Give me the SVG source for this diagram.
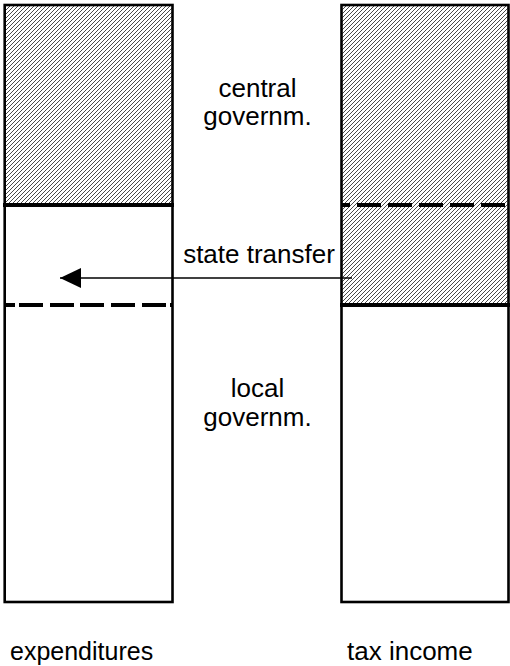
<svg xmlns="http://www.w3.org/2000/svg" width="510" height="666" viewBox="0 0 510 666">
<style>
.frame{fill:none;stroke:#000;stroke-width:2.6}
.sep{stroke:#000;stroke-width:4;fill:none}
.dash{stroke:#000;stroke-width:4;fill:none}
.lbl{font-family:"Liberation Sans",Arial,sans-serif;font-size:26px;fill:#000}
.conn{stroke:#000;stroke-width:1.3;fill:none}
</style>
<defs>
<pattern id="hatch" patternUnits="userSpaceOnUse" width="4" height="4">
<rect width="4" height="4" fill="#fff"/>
<path d="M-1,1 L1,-1 M0,4 L4,0 M3,5 L5,3" stroke="#4a4a4a" stroke-width="1"/>
</pattern>
<marker id="ah" markerUnits="userSpaceOnUse" markerWidth="22" markerHeight="22" refX="21" refY="10" orient="auto">
<path d="M0,0 L21,10 L0,20 Z" fill="#000"/>
</marker>
</defs>
<rect width="510" height="666" fill="#fff"/>
<g id="expenditures">
<rect x="5" y="5" width="168" height="200" fill="url(#hatch)"/>
<rect class="frame" x="4.7" y="5" width="167.8" height="597"/>
<path class="sep" d="M3,205 H174"/>
<path class="dash" d="M6,305 H15 M19,305 H43 M50,305 H74 M80,305 H104 M111,305 H135 M142,305 H166 M170,305 H173"/>
<text class="lbl" x="10" y="660" style="font-size:25px">expenditures</text>
</g>
<g id="tax-income">
<rect x="342" y="5" width="166" height="300" fill="url(#hatch)"/>
<rect class="frame" x="341.5" y="5" width="167" height="597"/>
<path class="sep" d="M340,305 H510"/>
<path class="dash" d="M342,205 H350 M357,205 H381 M388,205 H412 M419,205 H443 M450,205 H474 M481,205 H505"/>
<text class="lbl" x="347" y="660">tax income</text>
</g>
<g id="central-governm">
<text class="lbl" text-anchor="middle" x="257.5" y="97">central</text>
<text class="lbl" text-anchor="middle" x="257.5" y="125">governm.</text>
</g>
<g id="local-governm">
<text class="lbl" text-anchor="middle" x="257.5" y="397">local</text>
<text class="lbl" text-anchor="middle" x="257.5" y="426">governm.</text>
</g>
<g id="connectors">
<path class="conn" d="M352,278 H60" marker-end="url(#ah)"/>
<text class="lbl" text-anchor="middle" x="259" y="263">state transfer</text>
</g>
</svg>
